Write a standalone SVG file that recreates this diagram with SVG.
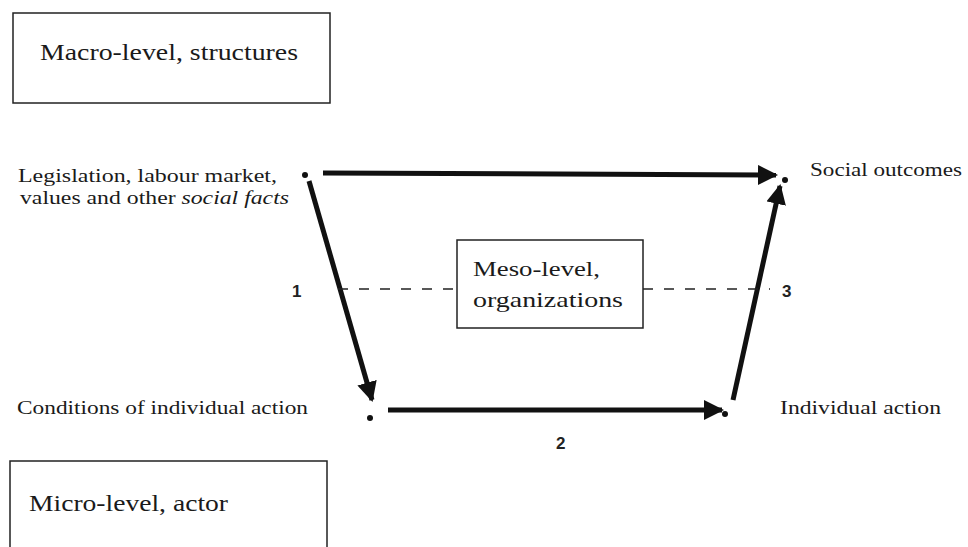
<svg xmlns="http://www.w3.org/2000/svg" width="968" height="547" viewBox="0 0 968 547">
<defs>
<style>
.box{fill:#fff;stroke:#222;stroke-width:1.5}
.t{font-family:"Liberation Serif","DejaVu Serif",serif;fill:#1a1a1a}
.n{font-family:"Liberation Sans",Arial,sans-serif;font-weight:bold;font-size:17px;fill:#222}
.a{stroke:#111;stroke-width:5;fill:none;marker-end:url(#ah)}
.d{stroke:#222;stroke-width:1.4;stroke-dasharray:10,11;fill:none}
.dot{fill:#111}
</style>
<marker id="ah" viewBox="0 0 10 10" refX="9" refY="5" markerWidth="4" markerHeight="4" orient="auto" markerUnits="strokeWidth">
<path d="M0,0 L10,5 L0,10 Z" fill="#111"/>
</marker>
</defs>
<rect width="968" height="547" fill="#fff"/>
<g id="macro">
<rect class="box" x="13" y="13" width="317" height="90"/>
<text class="t" x="40" y="60" font-size="24" textLength="258" lengthAdjust="spacingAndGlyphs">Macro-level, structures</text>
</g>
<g id="micro">
<rect class="box" x="10" y="461" width="317" height="100"/>
<text class="t" x="29" y="511" font-size="24" textLength="199" lengthAdjust="spacingAndGlyphs">Micro-level, actor</text>
</g>
<g id="social-facts">
<text class="t" x="18" y="182" font-size="19" textLength="259" lengthAdjust="spacingAndGlyphs">Legislation, labour market,</text>
<text class="t" x="20" y="204" font-size="19" textLength="269" lengthAdjust="spacingAndGlyphs">values and other <tspan font-style="italic">social facts</tspan></text>
<circle class="dot" cx="305" cy="175" r="3"/>
</g>
<g id="social-outcomes">
<text class="t" x="810" y="176" font-size="19" textLength="152" lengthAdjust="spacingAndGlyphs">Social outcomes</text>
<circle class="dot" cx="785" cy="180" r="3"/>
</g>
<g id="conditions">
<text class="t" x="17" y="414" font-size="19" textLength="291" lengthAdjust="spacingAndGlyphs">Conditions of individual action</text>
<circle class="dot" cx="370" cy="418" r="3"/>
</g>
<g id="individual-action">
<text class="t" x="780" y="414" font-size="19" textLength="161" lengthAdjust="spacingAndGlyphs">Individual action</text>
<circle class="dot" cx="725" cy="414" r="3"/>
</g>
<g id="meso">
<rect class="box" x="457" y="240" width="186" height="88"/>
<text class="t" x="473" y="276" font-size="21" textLength="127" lengthAdjust="spacingAndGlyphs">Meso-level,</text>
<text class="t" x="473" y="307" font-size="21" textLength="150" lengthAdjust="spacingAndGlyphs">organizations</text>
</g>
<g id="connectors">
<path class="a" d="M323,173 L776,175"/>
<path class="a" d="M309,181 L372,400"/>
<path class="a" d="M388,410 L722,410"/>
<path class="a" d="M733,400 L780,186"/>
<path class="d" d="M338,289 L457,289"/>
<path class="d" d="M643,289 L770,289"/>
<text class="n" x="292" y="297">1</text>
<text class="n" x="556" y="449">2</text>
<text class="n" x="782" y="297">3</text>
</g>
</svg>
